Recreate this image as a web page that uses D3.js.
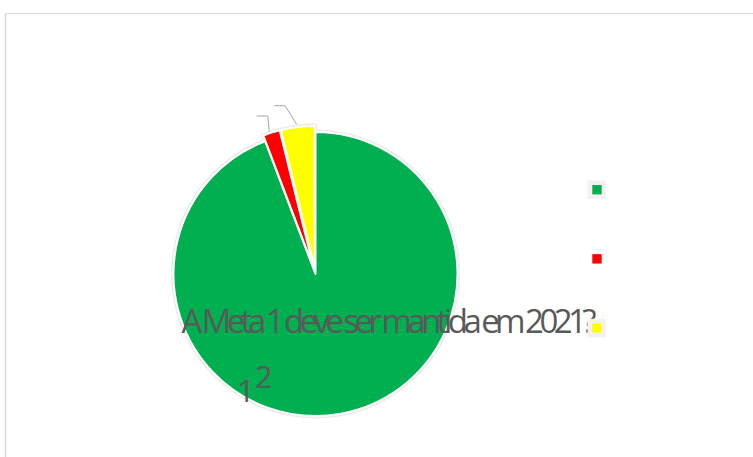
<!DOCTYPE html>
<html><head><meta charset="utf-8">
<script src="https://cdn.jsdelivr.net/npm/d3@7"></script>
<style>html,body{margin:0;padding:0;background:#fff;}svg{display:block;}</style>
</head><body>
<svg id="c" width="753" height="457"></svg>
<script>
const categories = ["Sim", "Não", "Não sei"];
const values = [49, 1, 2];
const colors = ["#00b050", "#ff0000", "#ffff00"];
const title = "A Meta 1 deve ser mantida em 2021?";

const svg = d3.select("#c");
// chart area border (partially visible)
svg.append("line").attr("x1", 5.5).attr("y1", 13.5).attr("x2", 753).attr("y2", 13.5).attr("stroke", "#d9d9d9").attr("stroke-width", 1.2);
svg.append("line").attr("x1", 5.5).attr("y1", 13.5).attr("x2", 5.5).attr("y2", 457).attr("stroke", "#d9d9d9").attr("stroke-width", 1.5);

const cx = 315.5, cy = 274, R = 142, explode = [0, 6, 6];
const pie = d3.pie().sort(null).value(d => d).startAngle(0).endAngle(2 * Math.PI);
const arcs = pie(values);
const arc = d3.arc().innerRadius(0).outerRadius(R);
const g = svg.append("g").attr("transform", `translate(${cx},${cy})`);
function off(d, i) {
  const a = (d.startAngle + d.endAngle) / 2;
  return `translate(${explode[i] * Math.sin(a)},${-explode[i] * Math.cos(a)})`;
}
g.selectAll("path.sh").data(arcs).join("path").attr("class", "sh")
  .attr("d", arc).attr("transform", off).attr("fill", "#ececec")
  .attr("stroke", "#ececec").attr("stroke-width", 5).attr("stroke-linejoin", "round");
g.selectAll("path.sl").data(arcs).join("path").attr("class", "sl")
  .attr("d", arc).attr("transform", off).attr("fill", (d, i) => colors[i])
  .attr("stroke", "#fff").attr("stroke-width", 2).attr("stroke-linejoin", "round");

// leader lines for small slices
const leader = d3.line();
svg.append("path").attr("d", leader([[256.7, 116], [267.7, 116], [269.3, 131.5]]))
  .attr("fill", "none").attr("stroke", "#a6a6a6").attr("stroke-width", 1);
svg.append("path").attr("d", leader([[274.3, 105.7], [285, 105.7], [296.7, 124.3]]))
  .attr("fill", "none").attr("stroke", "#a6a6a6").attr("stroke-width", 1);

// title (overlapping, compressed)
svg.append("text").attr("x", 181.5).attr("y", 333).text(title)
  .attr("font-family", "'Open Sans', Lato, sans-serif").attr("font-size", 33)
  .attr("fill", "#595959").attr("textLength", 415).attr("lengthAdjust", "spacing");

// displaced data labels
svg.append("text").attr("x", 237).attr("y", 402).text(values[1])
  .attr("font-family", "'Open Sans', Lato, sans-serif").attr("font-size", 31).attr("fill", "#595959");
svg.append("text").attr("x", 255).attr("y", 388).text(values[2])
  .attr("font-family", "'Open Sans', Lato, sans-serif").attr("font-size", 31).attr("fill", "#595959");

// legend markers (no text)
const ly = d3.scalePoint().domain(categories).range([185, 323.3]);
const lg = svg.append("g");
lg.selectAll("rect.hl").data(categories.filter((c, i) => i !== 1)).join("rect").attr("class", "hl")
  .attr("x", 587.5).attr("y", c => ly(c) - 4.5).attr("width", 18.5).attr("height", 18.5).attr("fill", "#f2f2f2");
lg.selectAll("rect.mk").data(categories).join("rect").attr("class", "mk")
  .attr("x", 592.3).attr("y", c => ly(c)).attr("width", 9.4).attr("height", 9.4)
  .attr("fill", (c, i) => colors[i]);
</script>
</body></html>
